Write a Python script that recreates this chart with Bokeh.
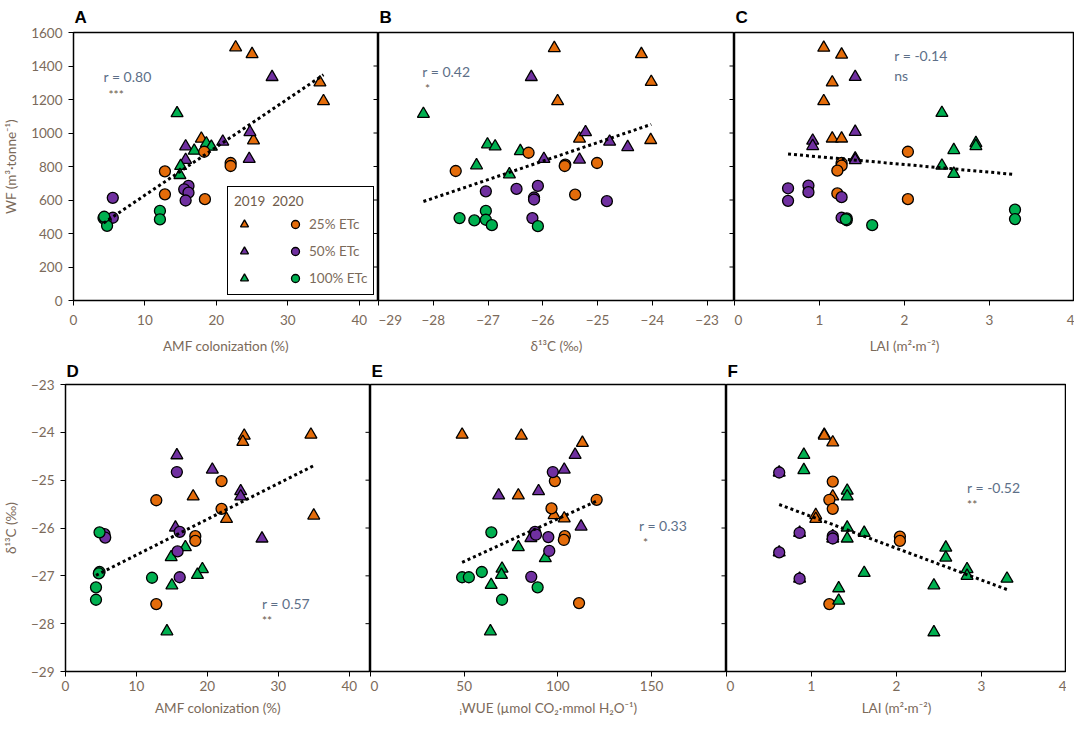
from bokeh.plotting import figure
from bokeh.layouts import row, column
from bokeh.models import Label, Legend, LegendItem, FixedTicker, Range1d
from bokeh.embed import file_html
from bokeh.resources import INLINE
import numpy as np

ORANGE = "#E46C0A"
PURPLE = "#7030A0"
GREEN = "#00B050"
TXT = "#7b6a5a"
RTXT = "#5d6f88"
FONT = "Lato"

# ---------------- data ----------------
# Panel A: AMF colonization (%) vs WF (m3 tonne-1)
A_x_o19 = [22.7, 25.0, 34.5, 35.0, 17.9, 25.2]
A_y_o19 = [1511, 1471, 1302, 1190, 966, 956]
A_x_p19 = [27.8, 24.7, 20.9, 15.7, 15.7, 24.6]
A_y_p19 = [1334, 1005, 948, 920, 839, 845]
A_x_g19 = [14.5, 18.6, 19.3, 16.9, 15.0, 14.9]
A_y_g19 = [1118, 938, 918, 894, 803, 749]
A_x_o20 = [18.3, 22.0, 22.0, 12.8, 12.8, 18.4]
A_y_o20 = [888, 821, 803, 771, 634, 605]
A_x_p20 = [5.5, 5.5, 16.1, 15.5, 16.1, 15.7]
A_y_p20 = [613, 494, 684, 664, 644, 597]
A_x_g20 = [4.2, 4.5, 4.7, 12.1, 12.1, 4.3]
A_y_g20 = [492, 480, 446, 535, 484, 500]

# Panel B: d13C (permil) vs WF
B_x_o19 = [-25.79, -24.20, -24.02, -25.73, -25.33, -24.03]
B_y_o19 = [1507, 1471, 1305, 1190, 966, 958]
B_x_p19 = [-26.21, -25.22, -24.78, -24.45, -25.98, -25.33]
B_y_p19 = [1334, 1005, 948, 916, 845, 841]
B_x_g19 = [-28.18, -27.01, -26.87, -26.41, -27.21, -26.61]
B_y_g19 = [1114, 932, 920, 892, 807, 753]
B_x_o20 = [-26.26, -27.59, -25.59, -25.01, -25.41, -25.60]
B_y_o20 = [882, 773, 811, 821, 632, 803]
B_x_p20 = [-27.04, -26.48, -26.09, -26.16, -26.16, -26.19, -24.83]
B_y_p20 = [652, 666, 684, 615, 603, 492, 593]
B_x_g20 = [-27.04, -27.52, -27.25, -27.04, -26.93, -26.09]
B_y_g20 = [535, 492, 478, 482, 450, 444]

# Panel C: LAI vs WF
C_x_o19 = [1.05, 1.26, 1.15, 1.05, 1.15, 1.26]
C_y_o19 = [1509, 1468, 1302, 1190, 967, 967]
C_x_p19 = [1.42, 1.42, 0.92, 0.92, 1.42, 1.42]
C_y_p19 = [1335, 1007, 954, 922, 848, 838]
C_x_g19 = [2.44, 2.84, 2.84, 2.58, 2.44, 2.58]
C_y_g19 = [1120, 940, 922, 898, 805, 756]
C_x_o20 = [2.04, 1.26, 1.26, 1.21, 1.21, 2.04]
C_y_o20 = [888, 821, 805, 775, 639, 605]
C_x_p20 = [0.63, 0.63, 0.87, 0.87, 1.26, 1.26]
C_y_p20 = [670, 595, 686, 647, 617, 494]
C_x_g20 = [1.32, 1.32, 1.62, 3.30, 3.30, 1.31]
C_y_g20 = [490, 479, 450, 542, 486, 485]

# Panel D: AMF colonization vs d13C
D_x_o19 = [25.2, 25.0, 34.6, 35.0, 18.0, 22.7]
D_y_o19 = [-24.07, -24.20, -24.05, -25.74, -25.34, -25.81]
D_x_p19 = [15.7, 20.7, 24.7, 24.7, 15.5, 27.7]
D_y_p19 = [-24.48, -24.78, -25.23, -25.34, -25.99, -26.22]
D_x_g19 = [16.9, 14.9, 19.3, 18.6, 15.0, 14.3]
D_y_g19 = [-26.40, -26.61, -26.86, -26.98, -27.20, -28.16]
D_x_o20 = [22.0, 12.8, 22.0, 18.3, 18.3, 12.8]
D_y_o20 = [-25.02, -25.42, -25.60, -26.17, -26.27, -27.59]
D_x_p20 = [15.7, 16.1, 5.5, 5.6, 15.8, 16.1]
D_y_p20 = [-24.83, -26.08, -26.13, -26.20, -26.49, -27.03]
D_x_g20 = [4.8, 4.8, 4.3, 4.3, 12.2, 4.7]
D_y_g20 = [-26.09, -26.92, -27.24, -27.50, -27.04, -26.95]

# Panel E: iWUE vs d13C
E_x_o19 = [48.9, 80.5, 113.1, 78.9, 98.0, 103.4]
E_y_o19 = [-24.05, -24.07, -24.22, -25.32, -25.73, -25.80]
E_x_p19 = [109.2, 103.4, 89.7, 68.4, 112.4, 85.6]
E_y_p19 = [-24.47, -24.78, -25.23, -25.32, -25.97, -26.21]
E_x_g19 = [78.9, 93.3, 70.2, 69.9, 64.4, 64.0]
E_y_g19 = [-26.40, -26.63, -26.85, -26.98, -27.19, -28.16]
E_x_o20 = [98.4, 120.7, 96.6, 103.7, 103.2, 111.3]
E_y_o20 = [-25.02, -25.41, -25.59, -26.17, -26.25, -27.57]
E_x_p20 = [97.3, 87.8, 88.3, 94.9, 95.4, 85.8]
E_y_p20 = [-24.83, -26.08, -26.14, -26.19, -26.48, -27.02]
E_x_g20 = [64.5, 59.4, 48.9, 52.5, 89.2, 70.2]
E_y_g20 = [-26.09, -26.92, -27.03, -27.03, -27.24, -27.50]

# Panel F: LAI vs d13C (as drawn in the reference)
F_x_o19 = [1.15, 1.25, 1.25, 1.05, 1.05, 1.15]
F_y_o19 = [-24.05, -24.21, -25.34, -25.73, -25.81, -24.07]
F_x_p19 = [0.62, 0.86, 1.25, 0.62, 0.86, 1.25]
F_y_p19 = [-24.84, -26.10, -26.17, -26.51, -27.06, -26.22]
F_x_g19 = [2.58, 2.58, 2.83, 2.83, 2.44, 2.44, 0.91, 0.91, 1.42, 1.42, 1.42, 1.42]
F_y_g19 = [-26.41, -26.62, -26.86, -27.00, -27.20, -28.18, -24.47, -24.79, -25.22, -25.34, -25.99, -26.22]
F_x_o20 = [1.25, 1.21, 1.25, 2.04, 2.04, 1.21]
F_y_o20 = [-25.03, -25.41, -25.60, -26.18, -26.27, -27.59]
F_x_p20 = [0.62, 0.86, 1.25, 0.62, 0.86, 1.25]
F_y_p20 = [-24.84, -26.10, -26.17, -26.51, -27.06, -26.22]
F_x_g20 = [1.62, 1.62, 1.32, 1.32, 3.30]
F_y_g20 = [-26.10, -26.94, -27.26, -27.52, -27.06]

# correlation annotations
r_texts = ["r = 0.80", "r = 0.42", "r = -0.14", "r = 0.57", "r = 0.33", "r = -0.52"]
sig_texts = ["***", "*", "ns", "**", "*", "**"]
r_pos = [(4.2, 1338), (-28.2, 1368), (1.88, 1464), (27.7, -27.57), (143.3, -25.94), (2.83, -25.15)]
sig_pos = [(4.9, 1232), (-28.15, 1266), (1.88, 1345), (27.7, -27.93), (145.4, -26.31), (2.83, -25.51)]

x_labels = ["AMF colonization (%)", "δ¹³C (‰)", "LAI (m²·m⁻²)",
            "AMF colonization (%)", "ᵢWUE (µmol CO₂·mmol H₂O⁻¹)", "LAI (m²·m⁻²)"]
wf_label = "WF (m³·tonne⁻¹)"
d13_label = "δ¹³C (‰)"
treat_labels = ["25% ETc", "50% ETc", "100% ETc"]
year_labels = ["2019", "2020"]

wf_ticks = [0, 200, 400, 600, 800, 1000, 1200, 1400, 1600]
d13_ticks = [-29, -28, -27, -26, -25, -24, -23]
amf_ticks = [0, 10, 20, 30, 40]
d13x_ticks = [-29, -28, -27, -26, -25, -24, -23]
lai_ticks = [0, 1, 2, 3, 4]
wue_ticks = [0, 50, 100, 150]


def style_xaxis(p, ticks, label, lab_standoff, title_standoff):
    ax = p.xaxis[0]
    ax.ticker = FixedTicker(ticks=ticks)
    ax.axis_label = label
    ax.axis_label_text_font = FONT
    ax.axis_label_text_font_style = "normal"
    ax.axis_label_text_font_size = "13.5px"
    ax.axis_label_text_color = TXT
    ax.axis_label_standoff = title_standoff
    ax.major_label_text_font = FONT
    ax.major_label_text_font_size = "13.5px"
    ax.major_label_text_color = TXT
    ax.major_label_standoff = lab_standoff
    ax.major_tick_out = 5
    ax.major_tick_in = 0
    ax.minor_tick_out = 0
    ax.minor_tick_in = 0
    ax.axis_line_color = "black"
    ax.major_tick_line_color = "black"


def add_edge_ticks(p, ticks):
    # tick marks of the neighbouring panel's y axis, seen along this panel's right border
    p.scatter([p.x_range.end] * len(ticks), ticks, marker="dash", size=10,
              line_color="black", line_width=1)


def make_panel(letter, fw, fh, xr, yr, left_axis, title_standoff):
    p = figure(frame_width=fw, frame_height=fh, x_range=Range1d(*xr), y_range=Range1d(*yr),
               output_backend="svg", toolbar_location=None,
               y_axis_location="left" if left_axis else None,
               min_border_left=0, min_border_right=0,
               min_border_top=0, min_border_bottom=0, title=letter)
    p.grid.visible = False
    p.outline_line_color = "black"
    p.outline_line_width = 1.5
    p.outline_line_alpha = 1
    p.background_fill_color = "white"
    p.border_fill_color = "white"
    p.title.text_font = "Liberation Sans"
    p.title.text_font_style = "bold"
    p.title.text_font_size = "17px"
    p.title.text_color = "black"
    p.title.align = "left"
    p.title.offset = 1
    p.title.standoff = title_standoff
    return p


def style_yaxis(p, ticks, label):
    ax = p.yaxis[0]
    ax.ticker = FixedTicker(ticks=ticks)
    ax.axis_label = label
    ax.axis_label_text_font = FONT
    ax.axis_label_text_font_style = "normal"
    ax.axis_label_text_font_size = "13.5px"
    ax.axis_label_text_color = TXT
    ax.axis_label_standoff = 9
    ax.major_label_text_font = FONT
    ax.major_label_text_font_size = "13.5px"
    ax.major_label_text_color = TXT
    ax.major_label_standoff = 6
    ax.major_tick_out = 5
    ax.major_tick_in = 0
    ax.minor_tick_out = 0
    ax.minor_tick_in = 0
    ax.axis_line_color = "black"
    ax.major_tick_line_color = "black"


def draw_points(p, groups):
    rends = []
    for xs, ys, marker, color in groups:
        sz = 12 if marker == "triangle" else 11
        r = p.scatter(xs, ys, marker=marker, size=sz, fill_color=color,
                      line_color="black", line_width=1.3)
        rends.append(r)
    xa = np.concatenate([np.asarray(g[0], float) for g in groups])
    ya = np.concatenate([np.asarray(g[1], float) for g in groups])
    slope, icpt = np.polyfit(xa, ya, 1)
    xl = np.array([xa.min(), xa.max()])
    p.line(xl, slope * xl + icpt, line_color="black", line_width=3, line_dash="3 3")
    return rends


def annotate(p, i):
    p.add_layout(Label(x=r_pos[i][0], y=r_pos[i][1], text=r_texts[i], text_font=FONT,
                       text_font_size="14px", text_color=RTXT, text_baseline="middle"))
    is_ns = sig_texts[i] == "ns"
    p.add_layout(Label(x=sig_pos[i][0], y=sig_pos[i][1], text=sig_texts[i], text_font=FONT,
                       text_font_size="14px" if is_ns else "12px",
                       text_color=RTXT if is_ns else "#6a5a4a", text_baseline="middle"))


T = "triangle"
Cc = "circle"

FWA, FWB, FWC = 305, 356, 340
FH_TOP, FH_BOT = 268, 287

pA = make_panel("A", FWA, FH_TOP, (0, 42.7), (0, 1600), True, 11)
pB = make_panel("B", FWB, FH_TOP, (-29, -22.5), (0, 1600), False, 11)
pC = make_panel("C", FWC, FH_TOP, (0, 4), (0, 1600), False, 11)
pD = make_panel("D", FWA, FH_BOT, (0, 43), (-29, -23), True, 7)
pE = make_panel("E", FWB, FH_BOT, (0, 190), (-29, -23), False, 7)
pF = make_panel("F", FWC, FH_BOT, (0, 4), (-29, -23), False, 7)

rA = draw_points(pA, [(A_x_o19, A_y_o19, T, ORANGE), (A_x_p19, A_y_p19, T, PURPLE), (A_x_g19, A_y_g19, T, GREEN),
                      (A_x_o20, A_y_o20, Cc, ORANGE), (A_x_p20, A_y_p20, Cc, PURPLE), (A_x_g20, A_y_g20, Cc, GREEN)])
draw_points(pB, [(B_x_o19, B_y_o19, T, ORANGE), (B_x_p19, B_y_p19, T, PURPLE), (B_x_g19, B_y_g19, T, GREEN),
                 (B_x_o20, B_y_o20, Cc, ORANGE), (B_x_p20, B_y_p20, Cc, PURPLE), (B_x_g20, B_y_g20, Cc, GREEN)])
draw_points(pC, [(C_x_o19, C_y_o19, T, ORANGE), (C_x_p19, C_y_p19, T, PURPLE), (C_x_g19, C_y_g19, T, GREEN),
                 (C_x_o20, C_y_o20, Cc, ORANGE), (C_x_p20, C_y_p20, Cc, PURPLE), (C_x_g20, C_y_g20, Cc, GREEN)])
draw_points(pD, [(D_x_o19, D_y_o19, T, ORANGE), (D_x_p19, D_y_p19, T, PURPLE), (D_x_g19, D_y_g19, T, GREEN),
                 (D_x_o20, D_y_o20, Cc, ORANGE), (D_x_p20, D_y_p20, Cc, PURPLE), (D_x_g20, D_y_g20, Cc, GREEN)])
draw_points(pE, [(E_x_o19, E_y_o19, T, ORANGE), (E_x_p19, E_y_p19, T, PURPLE), (E_x_g19, E_y_g19, T, GREEN),
                 (E_x_o20, E_y_o20, Cc, ORANGE), (E_x_p20, E_y_p20, Cc, PURPLE), (E_x_g20, E_y_g20, Cc, GREEN)])
draw_points(pF, [(F_x_o19, F_y_o19, T, ORANGE), (F_x_p19, F_y_p19, T, PURPLE), (F_x_g19, F_y_g19, T, GREEN),
                 (F_x_o20, F_y_o20, Cc, ORANGE), (F_x_p20, F_y_p20, Cc, PURPLE), (F_x_g20, F_y_g20, T, GREEN)])

for p, tk, lb in [(pA, amf_ticks, x_labels[0]), (pB, d13x_ticks, x_labels[1]), (pC, lai_ticks, x_labels[2])]:
    style_xaxis(p, tk, lb, 9, 10)
for p, tk, lb in [(pD, amf_ticks, x_labels[3]), (pE, wue_ticks, x_labels[4]), (pF, lai_ticks, x_labels[5])]:
    style_xaxis(p, tk, lb, 4, 6)
style_yaxis(pA, wf_ticks, wf_label)
style_yaxis(pD, d13_ticks, d13_label)
add_edge_ticks(pA, wf_ticks)
add_edge_ticks(pB, wf_ticks)
add_edge_ticks(pD, d13_ticks)
add_edge_ticks(pE, d13_ticks)

for i, p in enumerate([pA, pB, pC, pD, pE, pF]):
    annotate(p, i)

# legend (panel A): left column 2019 triangles, right column 2020 circles
items = [LegendItem(label="   ", renderers=[rA[0]]),
         LegendItem(label="   ", renderers=[rA[1]]),
         LegendItem(label="   ", renderers=[rA[2]]),
         LegendItem(label=treat_labels[0], renderers=[rA[3]]),
         LegendItem(label=treat_labels[1], renderers=[rA[4]]),
         LegendItem(label=treat_labels[2], renderers=[rA[5]])]
leg = Legend(items=items, ncols=2, location=(154, 5), margin=0, padding=6, spacing=7,
             glyph_width=20, glyph_height=20, label_standoff=4,
             title=year_labels[0] + "  " + year_labels[1],
             title_text_font=FONT, title_text_font_size="13.5px", title_text_font_style="normal",
             title_text_color="#6e5a48", title_standoff=5,
             label_text_font=FONT, label_text_font_size="13.5px", label_text_color=TXT,
             border_line_color="black", border_line_width=1.5, border_line_alpha=1,
             background_fill_color="white", background_fill_alpha=1)
pA.add_layout(leg)

layout = column(row(pA, pB, pC), row(pD, pE, pF))
open("out.html", "w").write(file_html(layout, INLINE))
